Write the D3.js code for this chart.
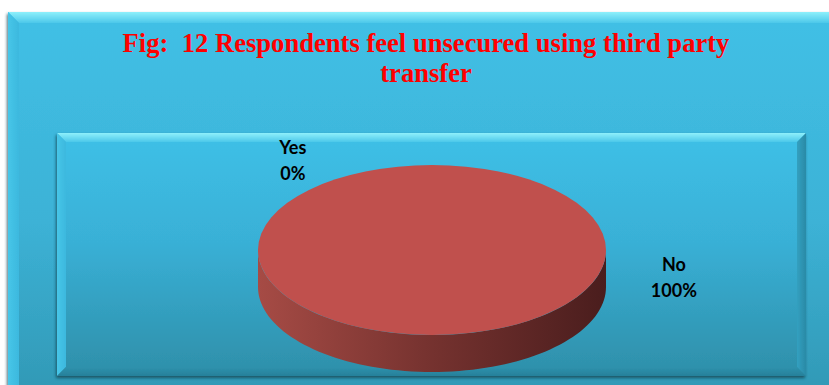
<!DOCTYPE html>
<html>
<head>
<meta charset="utf-8">
<script src="https://cdn.jsdelivr.net/npm/d3@7"></script>
<style>
  html, body { margin: 0; padding: 0; background: #ffffff; overflow: hidden; }
  svg { display: block; }
</style>
</head>
<body>
<svg id="chart" width="829" height="385"></svg>
<script>
// Survey answers
const categories = ["Yes", "No"];
const values = [0, 100];
const percentLabels = ["0%", "100%"];
const titleLines = ["Fig:  12 Respondents feel unsecured using third party", "transfer"];

const W = 829, H = 385;
const svg = d3.select("#chart");
const defs = svg.append("defs");

// ---- gradients ----
function vGrad(id, stops) {
  const g = defs.append("linearGradient").attr("id", id)
    .attr("x1", 0).attr("y1", 0).attr("x2", 0).attr("y2", 1);
  stops.forEach(s => g.append("stop").attr("offset", s[0]).attr("stop-color", s[1]));
}
function hGrad(id, stops) {
  const g = defs.append("linearGradient").attr("id", id)
    .attr("x1", 0).attr("y1", 0).attr("x2", 1).attr("y2", 0);
  stops.forEach(s => g.append("stop").attr("offset", s[0]).attr("stop-color", s[1]));
}
vGrad("outerFill", [[0, "#41c0e6"], [0.5, "#3cb2d6"], [1, "#2f93ae"]]);
vGrad("innerFill", [[0, "#3ec0e7"], [0.45, "#39b0d6"], [1, "#2e8fa9"]]);
vGrad("bevelTop", [[0, "#8ef0fb"], [1, "#4cc8ea"]]);
vGrad("bevelBottom", [[0, "#2e92ad"], [1, "#27809a"]]);
hGrad("bevelLeft", [[0, "#47c6e8"], [1, "#3cb8de"]]);
hGrad("bevelRight", [[0, "#32a0c0"], [1, "#2a8aa6"]]);
hGrad("pieSide", [[0, "#a64b45"], [0.5, "#75322f"], [1, "#4a1d1d"]]);

const shadow = defs.append("filter").attr("id", "shadow")
  .attr("x", "-5%").attr("y", "-5%").attr("width", "110%").attr("height", "115%");
shadow.append("feDropShadow").attr("dx", -1).attr("dy", 2).attr("stdDeviation", 1.6)
  .attr("flood-color", "#0b3c4c").attr("flood-opacity", 0.75);

// Beveled panel: flat face with four sloped edges
function bevelPanel(x, y, w, h, b, face, withShadow) {
  const g = svg.append("g");
  if (withShadow) g.attr("filter", "url(#shadow)");
  g.append("rect").attr("x", x).attr("y", y).attr("width", w).attr("height", h).attr("fill", face);
  const pts = a => a.map(p => p.join(",")).join(" ");
  g.append("polygon").attr("fill", "url(#bevelTop)")
    .attr("points", pts([[x, y], [x + w, y], [x + w - b, y + b], [x + b, y + b]]));
  g.append("polygon").attr("fill", "url(#bevelLeft)")
    .attr("points", pts([[x, y], [x + b, y + b], [x + b, y + h - b], [x, y + h]]));
  g.append("polygon").attr("fill", "url(#bevelRight)")
    .attr("points", pts([[x + w, y], [x + w, y + h], [x + w - b, y + h - b], [x + w - b, y + b]]));
  g.append("polygon").attr("fill", "url(#bevelBottom)")
    .attr("points", pts([[x, y + h], [x + b, y + h - b], [x + w - b, y + h - b], [x + w, y + h]]));
  return g;
}

// outer chart area (runs past the right and bottom edges) and inner plot area
bevelPanel(8, 12, 900, 420, 11, "url(#outerFill)", true);
bevelPanel(57, 133, 749, 243, 9, "url(#innerFill)", true);

// ---- title ----
const title = svg.append("text")
  .attr("text-anchor", "middle")
  .attr("xml:space", "preserve")
  .style("white-space", "pre")
  .attr("font-family", "'Liberation Serif', 'Times New Roman', serif")
  .attr("font-weight", "bold")
  .attr("font-size", 26.6)
  .attr("fill", "#ff0000");
titleLines.forEach((t, i) => {
  title.append("tspan").attr("x", 426).attr("y", 52 + i * 30).text(t);
});

// ---- 3D pie ----
const cx = 432, cy = 250, rx = 174, ry = 85, depth = 37;
const pie = d3.pie().sort(null).value(d => d.value);
const data = categories.map((c, i) => ({ name: c, value: values[i], label: percentLabels[i] }));
const arcs = pie(data);
const colors = d3.scaleOrdinal().domain(categories).range(["#4f81bd", "#c0504d"]);
const sideColors = d3.scaleOrdinal().domain(categories).range(["#2c4d74", "url(#pieSide)"]);

// point on the ellipse at pie angle a (0 = top, clockwise)
const ex = a => cx + rx * Math.sin(a);
const ey = a => cy - ry * Math.cos(a);

// Sides: only the front half (angles between PI/2 and 3PI/2) is visible
arcs.forEach(a => {
  if (a.endAngle - a.startAngle <= 0) return;
  const s = Math.max(a.startAngle, Math.PI / 2);
  const e = Math.min(a.endAngle, 3 * Math.PI / 2);
  if (e <= s) return;
  const p = d3.path();
  const steps = 80;
  for (let k = 0; k <= steps; k++) {
    const t = s + (e - s) * k / steps;
    k === 0 ? p.moveTo(ex(t), ey(t)) : p.lineTo(ex(t), ey(t));
  }
  for (let k = steps; k >= 0; k--) {
    const t = s + (e - s) * k / steps;
    p.lineTo(ex(t), ey(t) + depth);
  }
  p.closePath();
  svg.append("path").attr("d", p.toString()).attr("fill", sideColors(a.data.name));
});

// Tops: d3.arc on a circle, squashed vertically into an ellipse
const arcGen = d3.arc().innerRadius(0).outerRadius(rx);
svg.append("g")
  .attr("transform", `translate(${cx},${cy}) scale(1,${ry / rx})`)
  .selectAll("path")
  .data(arcs.filter(a => a.endAngle > a.startAngle))
  .join("path")
  .attr("d", arcGen)
  .attr("fill", d => colors(d.data.name));

// ---- data labels ----
// label anchor given as multiples of the ellipse radii from the centre
const labelOffsets = { "Yes": [-0.8, -1.13], "No": [1.39, 0.25] };
const labels = svg.append("g")
  .attr("font-family", "Lato, 'Open Sans', sans-serif")
  .attr("font-weight", "bold")
  .attr("font-size", 18)
  .attr("fill", "#000")
  .attr("text-anchor", "middle");
arcs.forEach(a => {
  const o = labelOffsets[a.data.name];
  const lx = cx + o[0] * rx, ly = cy + o[1] * ry;
  const t = labels.append("text");
  t.append("tspan").attr("x", lx).attr("y", ly).text(a.data.name);
  t.append("tspan").attr("x", lx).attr("y", ly + 26).text(a.data.label);
});
</script>
</body>
</html>
